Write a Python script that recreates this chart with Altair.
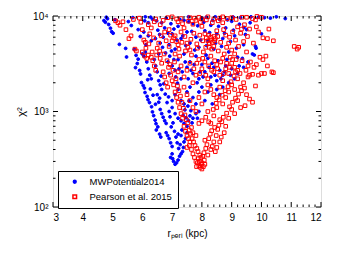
import altair as alt
import pandas as pd

# (r_peri [kpc], chi^2)
blue_points = [
    (4.71, 8950), (4.76, 8600), (4.83, 9350), (4.87, 8150), (4.93, 7450), (4.97, 6850), (5.02, 6600),
    (5.08, 9150), (4.79, 9700), (5.23, 5050), (5.47, 3720), (5.44, 4580), (5.53, 8740), (5.68, 9620),
    (5.63, 7950), (5.73, 4480), (5.79, 3870), (5.83, 3180), (5.77, 2880), (5.91, 2690), (5.94, 2470),
    (5.86, 3530), (5.97, 2010), (6.03, 1870), (6.07, 1760), (6.09, 1580), (6.16, 1440), (6.19, 1330),
    (6.24, 1240), (6.31, 1120), (6.34, 990), (6.38, 905), (6.43, 812), (6.46, 745), (6.52, 690),
    (6.47, 640), (6.58, 580), (6.62, 540),
    (6.0, 4000), (6.05, 3800), (6.1, 4200), (6.15, 3300), (6.2, 2800), (6.25, 2400), (6.3, 2200),
    (6.12, 5000), (6.2, 6200), (6.3, 5500), (6.05, 6800), (6.2, 8500), (6.35, 9200), (6.1, 9800),
    (6.4, 3500), (6.45, 3000), (6.5, 2600), (6.55, 2100), (6.6, 1900), (6.65, 1700), (6.5, 1500),
    (6.55, 1250), (6.6, 1050), (6.65, 950), (6.7, 870), (6.75, 800), (6.8, 750), (6.55, 4000),
    (6.6, 5200), (6.7, 6000), (6.75, 7500), (6.65, 8500), (6.8, 9500),
    (6.8, 600), (6.85, 560), (6.9, 520), (6.95, 470), (7.0, 430), (7.0, 360), (7.02, 320), (7.05, 300),
    (7.1, 280), (6.95, 330), (7.15, 290), (7.2, 310), (7.25, 340), (7.3, 360), (7.35, 380), (7.38, 420),
    (7.4, 480), (7.45, 520), (7.5, 600), (7.2, 580), (7.3, 560),
    (6.9, 1000), (7.0, 1100), (7.1, 950), (7.2, 850), (7.3, 800), (7.4, 750), (7.5, 700), (7.55, 800),
    (7.6, 900), (7.7, 850), (7.8, 950), (7.85, 850), (7.9, 1000), (7.0, 1300), (7.1, 1500), (7.2, 1700),
    (7.3, 1300), (7.4, 1200), (7.5, 1600), (7.6, 1800), (7.7, 1400), (7.8, 1200), (7.9, 1600), (8.0, 1800),
    (8.1, 1300),
    (6.9, 2500), (7.0, 3000), (7.1, 2700), (7.2, 3500), (7.3, 2200), (7.4, 4000), (7.5, 2900), (7.6, 3300),
    (7.7, 2500), (7.8, 3800), (7.9, 2200), (8.0, 3100), (8.1, 2600), (8.2, 3600), (8.3, 2300), (8.4, 2900),
    (8.5, 2100), (8.6, 2700), (8.7, 2400), (8.8, 3000), (8.9, 2000), (9.0, 2800), (9.1, 2200),
    (6.9, 5000), (7.0, 6500), (7.1, 4500), (7.2, 7800), (7.3, 5800), (7.4, 9000), (7.5, 6800), (7.6, 5200),
    (7.7, 8300), (7.8, 6000), (7.9, 4700), (8.0, 9500), (8.1, 7000), (8.2, 5500), (8.3, 8000), (8.4, 4500),
    (8.5, 6500), (8.6, 9200), (8.7, 5800), (8.8, 7500), (8.9, 4200), (9.0, 8800), (9.1, 6200), (9.2, 3700),
    (9.3, 9600), (9.4, 5000), (9.5, 7200), (9.7, 4000), (9.8, 4800), (9.55, 3300), (10.0, 6500),
    (10.1, 9600), (10.8, 9400), (9.9, 9700), (9.25, 3000), (10.3, 9500),
    (8.2, 1600), (8.3, 1900), (8.5, 1700), (8.6, 1500), (8.35, 1200), (8.7, 1800), (9.2, 2500), (9.4, 2900),
    (9.36, 3600), (9.76, 3900), (9.41, 7600), (9.82, 4600),
    (6.18, 2150), (6.27, 1720), (6.36, 1480), (6.44, 1190), (6.58, 1380), (6.63, 2350), (6.72, 1950),
    (6.77, 1520), (6.83, 1240), (6.88, 1420), (6.93, 880), (6.97, 690), (7.03, 760), (7.08, 620),
    (7.13, 540), (7.17, 470), (7.22, 410), (7.27, 450), (7.33, 640), (7.37, 910), (7.43, 1040), (7.47, 860),
    (7.53, 1140), (7.57, 1290), (7.63, 1020), (7.67, 760), (6.86, 3300), (6.92, 3800), (6.98, 4300),
    (7.06, 3500), (7.12, 2300), (7.18, 1980), (7.23, 2800), (7.34, 2600), (7.44, 3300), (7.54, 2200),
    (7.64, 2700), (7.74, 3100), (7.84, 2000), (7.94, 2600), (8.04, 2300), (8.14, 3900), (8.24, 2900),
    (8.34, 3200), (8.44, 2400), (8.54, 3400), (8.64, 2200), (8.76, 2600), (8.84, 3500), (8.96, 2400),
    (6.44, 5800), (6.52, 7100), (6.58, 6400), (6.68, 4700), (6.78, 4100), (6.86, 6600), (6.96, 8300),
    (7.06, 7300), (7.16, 5600), (7.26, 9200), (7.36, 6200), (7.46, 4900), (7.56, 8700), (7.66, 6900),
    (7.76, 4400), (7.86, 7900), (7.96, 5600), (8.06, 8600), (8.16, 4900), (8.26, 6700), (8.36, 9000),
    (8.46, 5200), (8.56, 7800), (8.66, 4800), (8.76, 6600), (8.86, 9100), (8.96, 5400), (9.06, 7100),
    (9.16, 4600), (9.26, 8200), (9.46, 6400), (9.62, 8500), (5.93, 6100), (5.86, 7200), (6.08, 8900),
    (6.28, 9700), (6.48, 8900), (7.55, 9800), (8.15, 9700), (8.45, 9800), (9.05, 9750), (9.65, 9800),
    (10.5, 9800),
]

red_points = [
    (5.1, 8900), (5.18, 8500), (5.25, 8000), (5.45, 7200), (5.55, 5800), (5.62, 6200), (5.75, 4500),
    (5.8, 4300), (5.9, 9500), (5.95, 8600), (6.0, 7200), (6.05, 5600), (6.1, 5300), (6.0, 4200),
    (6.08, 3800), (6.15, 3600), (6.2, 3900), (6.3, 3700), (6.35, 3400), (6.4, 3000), (6.45, 2700),
    (6.25, 6500), (6.3, 7500), (6.4, 8700), (6.45, 9300), (6.5, 4600), (6.55, 5200), (6.6, 3600),
    (6.65, 3200), (6.7, 2600), (6.75, 2300), (6.8, 2000), (6.85, 1800), (6.7, 9000), (6.75, 6800),
    (6.8, 5500), (6.9, 4800), (6.95, 2400), (7.0, 2100), (7.05, 1900), (7.1, 1600), (7.15, 1400),
    (7.2, 1250), (7.25, 1100), (7.3, 950), (7.35, 850), (7.4, 700), (7.45, 620), (7.5, 560), (7.55, 520),
    (7.6, 480), (7.58, 440), (7.5, 420), (7.65, 400), (7.7, 360), (7.75, 330), (7.8, 300), (7.85, 290),
    (7.9, 270), (7.95, 260), (8.0, 250), (8.05, 265), (8.1, 280), (7.82, 265), (7.92, 300), (8.0, 290),
    (8.08, 310), (7.98, 280), (7.88, 320),
    (8.2, 350), (8.3, 400), (8.35, 430), (8.45, 380), (8.5, 420), (8.6, 480), (8.65, 540), (8.75, 600),
    (8.8, 700), (8.4, 480), (8.1, 500), (7.8, 560), (7.7, 600), (7.65, 680), (7.9, 750), (8.0, 800),
    (8.3, 750), (8.4, 900), (8.6, 820), (8.9, 850), (9.1, 950), (9.0, 1050), (9.3, 1100), (9.45, 1150),
    (9.6, 1350), (9.7, 1250), (9.2, 1300), (9.5, 1500), (8.2, 1000), (8.5, 1100), (8.7, 1200),
    (8.8, 1400), (8.9, 1600), (9.1, 1700), (9.3, 1800), (9.8, 1850), (9.9, 2400), (10.0, 2500),
    (10.1, 2500), (10.35, 2600), (10.4, 2550), (10.2, 3000), (9.55, 2300), (9.6, 2400), (9.7, 2450),
    (9.4, 2000), (9.2, 2200), (9.0, 1900),
    (7.2, 2600), (7.3, 3000), (7.4, 2300), (7.5, 2700), (7.6, 3200), (7.7, 2000), (7.8, 2400), (7.9, 3500),
    (8.0, 2800), (8.1, 3300), (8.2, 2200), (8.3, 3800), (8.4, 2600), (8.5, 3100), (8.6, 2400), (8.7, 3600),
    (8.8, 2800), (8.9, 2500), (9.0, 3200), (9.1, 2900), (9.2, 2700), (7.4, 1800), (7.5, 1500), (7.6, 1300),
    (7.7, 1100), (7.8, 1000), (7.9, 1400), (8.0, 1200), (8.1, 1600), (8.2, 1900), (8.3, 1700), (8.4, 1500),
    (8.5, 1400), (8.6, 1800), (8.7, 2100),
    (7.0, 5500), (7.1, 6200), (7.2, 5000), (7.3, 6800), (7.4, 7500), (7.5, 5200), (7.6, 4400), (7.7, 8200),
    (7.8, 9000), (7.9, 9700), (8.0, 7800), (8.1, 6500), (8.2, 5500), (8.3, 6000), (8.35, 5300), (8.4, 4800),
    (8.45, 5800), (8.5, 7000), (8.6, 9500), (8.7, 8500), (8.8, 6300), (8.9, 5200), (9.0, 4400), (9.1, 4000),
    (9.2, 7700), (9.3, 6600), (9.4, 5400), (9.5, 4200), (9.6, 7300), (9.7, 9400), (9.8, 9100), (9.9, 6800),
    (10.0, 9700), (10.2, 5800), (10.4, 5500), (11.1, 4800), (11.2, 4500), (11.25, 4700), (7.6, 9600),
    (7.3, 9400), (7.0, 9800), (8.2, 9800), (8.4, 9300), (8.0, 9300), (7.2, 8700), (8.7, 9800), (9.0, 9600),
    (9.5, 9700), (6.9, 7200), (7.1, 4000), (7.25, 3800), (7.45, 4300), (7.65, 3900), (7.85, 4600),
    (8.05, 4200), (8.25, 4700), (8.55, 4300), (8.75, 4000), (8.95, 3700), (9.15, 3500), (9.35, 3400),
    (9.55, 3000), (9.75, 2900), (9.95, 3700), (10.15, 3800),
    (8.25, 5200), (8.3, 5600), (8.4, 6100), (8.15, 5900), (7.05, 5900), (7.15, 5400), (6.95, 6300),
    (6.12, 4600), (6.22, 5100), (6.33, 4200), (6.38, 5900), (6.48, 3900), (6.58, 4300), (6.63, 6200),
    (6.73, 4000), (6.83, 3400), (6.88, 2900), (6.93, 3100), (7.03, 2700), (7.08, 3300), (7.13, 2200),
    (7.18, 1850), (7.23, 1650), (7.28, 1450), (7.33, 1250), (7.38, 1080), (7.43, 920), (7.48, 820),
    (7.53, 760), (7.57, 640), (7.62, 580), (7.67, 520), (7.72, 480), (7.77, 440), (7.83, 410), (7.87, 380),
    (7.93, 350), (7.97, 330), (8.03, 340), (8.07, 370), (8.13, 410), (8.17, 450), (8.23, 520), (8.28, 580),
    (8.33, 630), (8.43, 680), (8.48, 560), (8.53, 650), (8.57, 720), (8.67, 780), (8.72, 870), (8.83, 960),
    (8.93, 1120), (9.03, 1250), (9.13, 1380), (9.23, 1520), (9.33, 1650), (9.43, 1760), (8.13, 870),
    (8.23, 780), (8.38, 1050), (8.48, 1220), (8.58, 1320), (8.68, 1480), (8.78, 1650), (8.88, 1820),
    (8.98, 2050), (9.08, 2350), (9.28, 2500), (9.48, 2700), (9.63, 3300), (9.83, 3100), (10.05, 3500),
    (7.73, 2800), (7.83, 3200), (7.93, 2500), (8.03, 3600), (8.13, 2400), (8.23, 3000), (8.33, 2700),
    (8.43, 3400), (8.53, 2800), (8.63, 3300), (8.73, 2500), (8.83, 3200), (8.93, 2900), (9.03, 3500),
    (9.13, 2600), (7.23, 4500), (7.33, 5300), (7.43, 6100), (7.53, 4700), (7.63, 5700), (7.73, 6600),
    (7.83, 5100), (7.93, 6300), (8.03, 5500), (8.13, 4700), (8.23, 6300), (8.33, 4500), (8.43, 5500),
    (8.53, 6100), (8.63, 5300), (8.73, 7200), (8.83, 4700), (8.93, 6000), (9.03, 6800), (9.13, 5600),
    (9.23, 4800), (9.33, 7300), (9.43, 8100), (9.53, 6100), (9.73, 5200), (9.83, 7700), (10.05, 5900),
    (10.25, 7300), (7.35, 8300), (7.55, 8800), (7.75, 9500), (7.95, 8600), (8.15, 9100), (8.35, 8500),
    (8.55, 8900), (8.85, 9400), (9.15, 9200), (9.35, 9700), (9.85, 9900), (7.15, 9300), (6.85, 9600),
    (6.6, 8100), (6.2, 8100), (5.7, 9200), (5.35, 8700),
]

series_names = ["MWPotential2014", "Pearson et al. 2015"]
x_major = [3, 4, 5, 6, 7, 8, 9, 10, 11, 12]
x_minor = [3 + 0.2 * i for i in range(46) if i % 5 != 0]
y_major = [100, 1000, 10000]
y_minor = [m * d for d in (100, 1000) for m in range(2, 10)]

rows = [{"r": r, "chi2": c, "series": series_names[0]} for r, c in blue_points]
rows += [{"r": r, "chi2": c, "series": series_names[1]} for r, c in red_points]
df = pd.DataFrame(rows)

W, H = 268, 191
FONT = "Liberation Sans"
xs = alt.Scale(domain=[3, 12], nice=False, zero=False)
ys = alt.Scale(type="log", domain=[100, 10000], nice=False)

x_axis = alt.Axis(values=x_major, ticks=False, domain=False, grid=False,
                  labelFontSize=10, labelPadding=5, labelColor="black",
                  title="rₚₑᵣᵢ (kpc)", titleFontSize=10,
                  titleFontWeight="normal", titleColor="black", titlePadding=6)
y_axis = alt.Axis(values=y_major, ticks=False, domain=False, grid=False,
                  labelExpr="datum.value == 100 ? '10²' : datum.value == 1000 ? '10³' : '10⁴'",
                  labelFontSize=10, labelPadding=5, labelColor="black",
                  title="χ²", titleFontSize=11, titleFontWeight="normal",
                  titleColor="black", titlePadding=6)

points = alt.Chart(df).mark_point(opacity=1, strokeWidth=1).encode(
    x=alt.X("r:Q", scale=xs, axis=x_axis),
    y=alt.Y("chi2:Q", scale=ys, axis=y_axis),
    fill=alt.Fill("series:N", scale=alt.Scale(domain=series_names, range=["#0000ff", "transparent"]),
                  legend=alt.Legend(title=None, orient="none", legendX=5, legendY=155,
                                    fillColor="white", strokeColor="black",
                                    padding=6, labelFontSize=9.5, labelFont=FONT, rowPadding=4,
                                    labelOffset=10, symbolOffset=6)),
    stroke=alt.Stroke("series:N", scale=alt.Scale(domain=series_names, range=["#0000ff", "#ff0000"])),
    shape=alt.Shape("series:N", scale=alt.Scale(domain=series_names, range=["circle", "square"])),
    size=alt.Size("series:N", scale=alt.Scale(domain=series_names, range=[8, 13])),
)

def xticks(vals, length):
    d = pd.DataFrame({"r": vals})
    bot = alt.Chart(d).mark_rule(color="black", strokeWidth=1).encode(
        x=alt.X("r:Q", scale=xs, axis=x_axis), y=alt.value(H), y2=alt.value(H - length))
    top = alt.Chart(d).mark_rule(color="black", strokeWidth=1).encode(
        x=alt.X("r:Q", scale=xs, axis=x_axis), y=alt.value(0), y2=alt.value(length))
    return [bot, top]

def yticks(vals, length):
    d = pd.DataFrame({"chi2": vals})
    left = alt.Chart(d).mark_rule(color="black", strokeWidth=1).encode(
        y=alt.Y("chi2:Q", scale=ys, axis=y_axis), x=alt.value(0), x2=alt.value(length))
    right = alt.Chart(d).mark_rule(color="black", strokeWidth=1).encode(
        y=alt.Y("chi2:Q", scale=ys, axis=y_axis), x=alt.value(W), x2=alt.value(W - length))
    return [left, right]

layers = [points] + xticks(x_major, 5) + xticks(x_minor, 2.5) + yticks(y_major, 5) + yticks(y_minor, 2.5)

chart = alt.layer(*layers).properties(
    width=W, height=H, autosize="none",
    padding={"left": 45, "top": 8, "right": 10, "bottom": 39},
).configure_view(stroke="black", strokeWidth=1.2).configure(font=FONT)

chart.save("out.html", embed_options={"renderer": "svg", "actions": False})
